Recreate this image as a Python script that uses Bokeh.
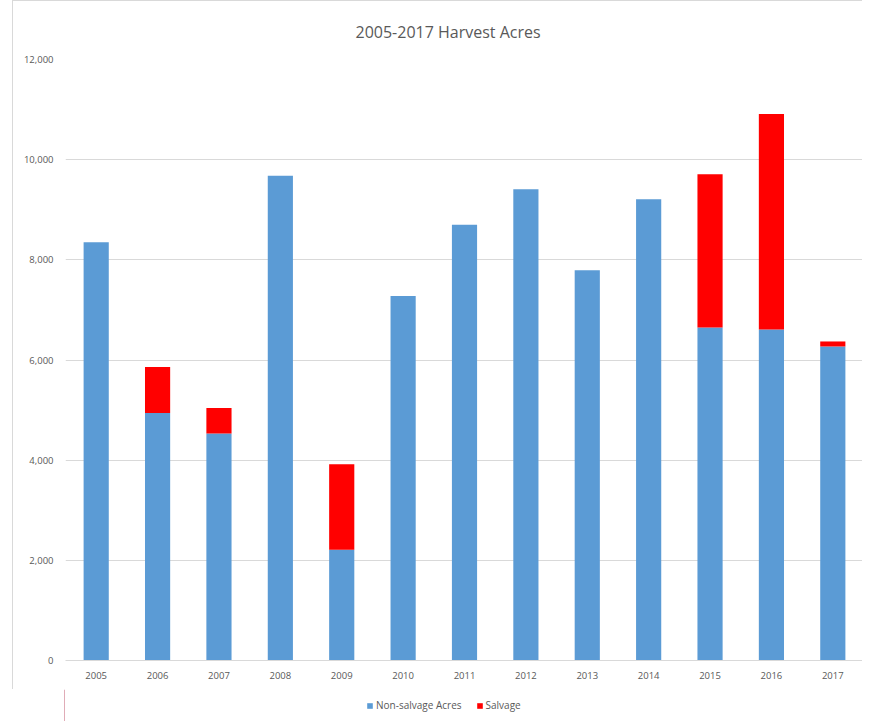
from bokeh.plotting import figure
from bokeh.layouts import column
from bokeh.models import (ColumnDataSource, Legend, LegendItem, NumeralTickFormatter,
                          FixedTicker, Range1d)
from bokeh.embed import file_html
from bokeh.resources import INLINE

years = ["2005", "2006", "2007", "2008", "2009", "2010", "2011", "2012",
         "2013", "2014", "2015", "2016", "2017"]
non_salvage = [8350, 4940, 4530, 9680, 2210, 7280, 8700, 9410, 7790, 9210, 6650, 6610, 6270]
salvage = [0, 920, 510, 0, 1710, 0, 0, 0, 0, 0, 3060, 4300, 100]
y_ticks = [0, 2000, 4000, 6000, 8000, 10000, 12000]
series_names = ["Non-salvage Acres", "Salvage"]
colors = ["#5B9BD5", "#FF0000"]

FONT = "Open Sans"
GREY = "#595959"

source = ColumnDataSource(dict(years=years, non_salvage=non_salvage, salvage=salvage))

p = figure(x_range=years, y_range=Range1d(0, 12000), frame_width=797, frame_height=600,
           output_backend="svg", toolbar_location=None,
           min_border_left=52, min_border_right=0, min_border_top=58, min_border_bottom=30,
           title="2005-2017 Harvest Acres")

renderers = p.vbar_stack(["non_salvage", "salvage"], x="years", width=0.41,
                         color=colors, line_color=None, source=source)

p.title.align = "left"
p.title.offset = 290
p.title.text_font = FONT
p.title.text_font_size = "16px"
p.title.text_font_style = "normal"
p.title.text_color = GREY
p.title.standoff = 34

p.outline_line_color = None
p.xgrid.grid_line_color = None
p.ygrid.grid_line_color = "#d9d9d9"
p.ygrid.grid_line_width = 1

p.yaxis.ticker = FixedTicker(ticks=y_ticks)
p.yaxis.formatter = NumeralTickFormatter(format="0,0")
p.yaxis.axis_line_color = None
p.yaxis.major_tick_line_color = None
p.yaxis.minor_tick_line_color = None
p.yaxis.major_tick_out = 0
p.yaxis.minor_tick_out = 0
p.yaxis.major_label_standoff = 12
p.yaxis.major_label_text_font = FONT
p.yaxis.major_label_text_font_size = "9.5px"
p.yaxis.major_label_text_color = GREY

p.xaxis.axis_line_color = "#d9d9d9"
p.xaxis.major_tick_line_color = None
p.xaxis.minor_tick_line_color = None
p.xaxis.major_tick_out = 0
p.xaxis.minor_tick_out = 0
p.xaxis.major_label_standoff = 11
p.xaxis.major_label_text_font = FONT
p.xaxis.major_label_text_font_size = "9.5px"
p.xaxis.major_label_text_color = GREY

p.styles = {"border-left": "1px solid #d9d9d9", "border-top": "1px solid #d9d9d9",
            "margin-left": "12px"}

# legend strip below the chart (hidden swatch renderers outside the visible range)
lf = figure(width=849, height=32, x_range=Range1d(0, 1), y_range=Range1d(0, 1),
            output_backend="svg", toolbar_location=None,
            min_border=0, min_border_left=0, min_border_right=0,
            min_border_top=0, min_border_bottom=0)
lf.axis.visible = False
lf.grid.visible = False
lf.outline_line_color = None
swatch_src = ColumnDataSource(dict(x=[-10], top=[1]))
dummy = [lf.vbar(x="x", top="top", width=0.1, color=c, line_color=None, source=swatch_src)
         for c in colors]
legend = Legend(items=[LegendItem(label=series_names[i], renderers=[dummy[i]]) for i in range(2)],
                orientation="horizontal", location=(302, 9),
                label_text_font=FONT, label_text_font_size="10px", label_text_color=GREY,
                glyph_width=7, glyph_height=7, spacing=14, padding=0, margin=0,
                border_line_color=None, background_fill_alpha=0, label_standoff=3)
lf.add_layout(legend)
lf.styles = {"margin-left": "12px"}

layout = column(p, lf, spacing=0)

open("out.html", "w").write(file_html(layout, INLINE))
